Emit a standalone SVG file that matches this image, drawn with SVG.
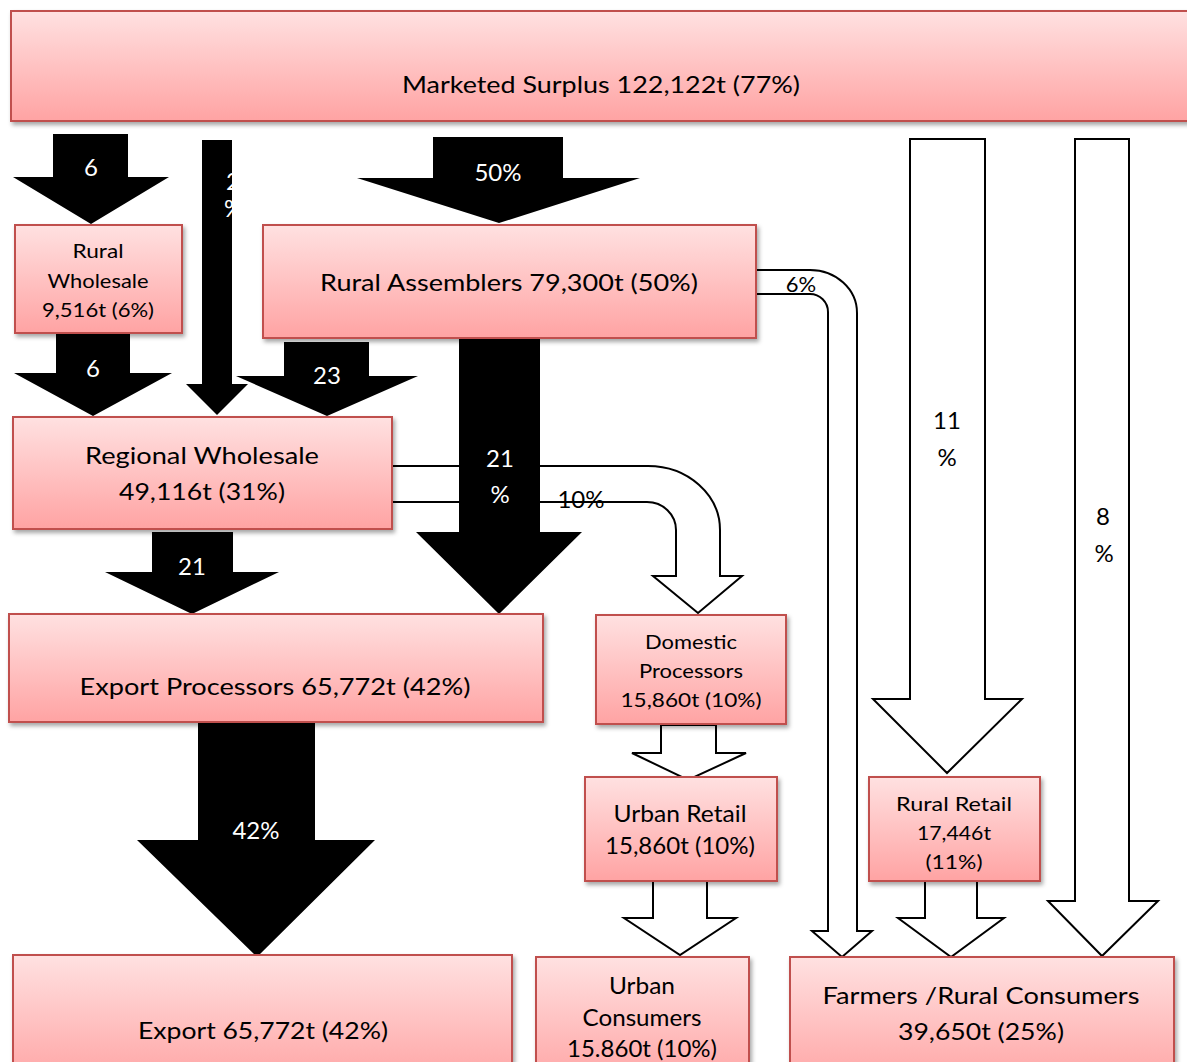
<svg xmlns="http://www.w3.org/2000/svg" width="1187" height="1062" viewBox="0 0 1187 1062">
<style>
.box{fill:url(#g);stroke:#c0504d;stroke-width:2;filter:url(#sh)}
.t{font-family:Lato,"Open Sans","Liberation Sans",sans-serif;font-size:24px;fill:#000;text-anchor:middle}
.s{font-size:19px}
.w{fill:#fff}
.blk{fill:#000;stroke:none}
.wht{fill:#fff;stroke:#000;stroke-width:2;stroke-linejoin:miter}
</style>
<defs>
<linearGradient id="g" x1="0" y1="0" x2="0" y2="1">
<stop offset="0" stop-color="#ffe1e1"/>
<stop offset="1" stop-color="#ffa3a3"/>
</linearGradient>
<filter id="sh" x="-5%" y="-5%" width="110%" height="120%">
<feDropShadow dx="2" dy="3" stdDeviation="2" flood-color="#000" flood-opacity="0.35"/>
</filter>
</defs>
<rect width="1187" height="1062" fill="#fff"/>
<g id="connectors">
<!-- white bent arrow Regional Wholesale -> Domestic Processors -->
<path class="wht" d="M392,466 H648 A72,64 0 0 1 720,530 V576 H742 L698,613 L653,576 H676 V530 A29,28 0 0 0 647,502 H392"/>
<!-- top-left 6 -->
<path class="blk" d="M53,134 H128 V177 H169 L91,224 L13,177 H53 Z"/>
<!-- narrow 2% -->
<path class="blk" d="M202,140 H232 V384 H248 L217,415 L186,384 H202 Z"/>
<!-- 50% -->
<path class="blk" d="M433,137 H563 V178 H640 L499,223 L357,178 H433 Z"/>
<!-- 6 Rural Wholesale -> Regional -->
<path class="blk" d="M56,334 H130 V373 H172 L93,416 L14,373 H56 Z"/>
<!-- 23 -->
<path class="blk" d="M284,342 H369 V376 H418 L327,416 L236,376 H284 Z"/>
<!-- 21 % big -->
<path class="blk" d="M459,338 H540 V532 H582 L499,614 L416,532 H459 Z"/>
<!-- 21 Regional -> Export Processors -->
<path class="blk" d="M152,532 H233 V572 H279 L192,614 L105,572 H152 Z"/>
<!-- 42% -->
<path class="blk" d="M198,720 H315 V840 H375 L257,957 L137,840 H198 Z"/>
<!-- 6% bent -->
<path class="wht" d="M756,270 H810 A47,43 0 0 1 857,313 V931 H872 L842,957 L812,931 H828 V312 A18,18 0 0 0 810,294 H756"/>
<!-- 11% -->
<path class="wht" d="M910,139 H985 V699 H1022 L947,773 L873,699 H910 Z"/>
<!-- 8% -->
<path class="wht" d="M1075,139 H1129 V901 H1158 L1102,956 L1048,901 H1075 Z"/>
<!-- Rural Retail -> Farmers -->
<path class="wht" d="M925,881 H977 V918 H1004 L951,957 L898,918 H925 Z"/>
<!-- Domestic -> Urban Retail -->
<path class="wht" d="M661,725 H716 V753 H746 L688,780 L632,753 H661 Z"/>
<!-- Urban Retail -> Urban Consumers -->
<path class="wht" d="M653,881 H707 V918 H736 L680,955 L624,918 H653 Z"/>
<!-- labels -->
<text class="t w" x="91" y="176">6</text>
<text class="t w" x="226" y="190" style="text-anchor:start">2</text>
<text class="t w" x="224" y="217" style="text-anchor:start">%</text>
<text class="t w" x="498" y="181">50%</text>
<text class="t w" x="93" y="377">6</text>
<text class="t w" x="327" y="384">23</text>
<text class="t w" x="500" y="467">21</text>
<text class="t w" x="500" y="503">%</text>
<text class="t w" x="192" y="575">21</text>
<text class="t w" x="256" y="839">42%</text>
<text class="t" x="801" y="292" style="font-size:22px">6%</text>
<text class="t" x="581" y="508">10%</text>
<text class="t" x="947" y="429">11</text>
<text class="t" x="947" y="466">%</text>
<text class="t" x="1103" y="525">8</text>
<text class="t" x="1104" y="562">%</text>
</g>
<g id="marketed-surplus">
<rect class="box" x="11" y="11" width="1185" height="110"/>
<text class="t" x="601" y="93" textLength="398" lengthAdjust="spacingAndGlyphs">Marketed Surplus 122,122t (77%)</text>
</g>
<g id="rural-wholesale">
<rect class="box" x="15" y="225" width="167" height="108"/>
<text class="t s" x="98" y="258" textLength="51" lengthAdjust="spacingAndGlyphs">Rural</text>
<text class="t s" x="98" y="288" textLength="101" lengthAdjust="spacingAndGlyphs">Wholesale</text>
<text class="t s" x="98" y="317" textLength="112" lengthAdjust="spacingAndGlyphs">9,516t (6%)</text>
</g>
<g id="rural-assemblers">
<rect class="box" x="263" y="225" width="493" height="113"/>
<text class="t" x="509" y="291" textLength="378" lengthAdjust="spacingAndGlyphs">Rural Assemblers 79,300t (50%)</text>
</g>
<g id="regional-wholesale">
<rect class="box" x="13" y="417" width="379" height="112"/>
<text class="t" x="202" y="464" textLength="234" lengthAdjust="spacingAndGlyphs">Regional Wholesale</text>
<text class="t" x="202" y="500" textLength="166" lengthAdjust="spacingAndGlyphs">49,116t (31%)</text>
</g>
<g id="export-processors">
<rect class="box" x="9" y="614" width="534" height="108"/>
<text class="t" x="275" y="695" textLength="391" lengthAdjust="spacingAndGlyphs">Export Processors  65,772t (42%)</text>
</g>
<g id="domestic-processors">
<rect class="box" x="596" y="615" width="190" height="109"/>
<text class="t s" x="691" y="649" textLength="92" lengthAdjust="spacingAndGlyphs">Domestic</text>
<text class="t s" x="691" y="678" textLength="104" lengthAdjust="spacingAndGlyphs">Processors</text>
<text class="t s" x="691" y="707" textLength="141" lengthAdjust="spacingAndGlyphs">15,860t  (10%)</text>
</g>
<g id="urban-retail">
<rect class="box" x="585" y="777" width="192" height="104"/>
<text class="t" x="680" y="822" textLength="133" lengthAdjust="spacingAndGlyphs">Urban Retail</text>
<text class="t" x="680" y="854" textLength="150" lengthAdjust="spacingAndGlyphs">15,860t (10%)</text>
</g>
<g id="rural-retail">
<rect class="box" x="869" y="777" width="171" height="104"/>
<text class="t s" x="954" y="811" textLength="116" lengthAdjust="spacingAndGlyphs">Rural  Retail</text>
<text class="t s" x="954" y="840" textLength="74" lengthAdjust="spacingAndGlyphs">17,446t</text>
<text class="t s" x="954" y="869" textLength="57" lengthAdjust="spacingAndGlyphs">(11%)</text>
</g>
<g id="export">
<rect class="box" x="13" y="955" width="499" height="130"/>
<text class="t" x="263" y="1039" textLength="250" lengthAdjust="spacingAndGlyphs">Export 65,772t (42%)</text>
</g>
<g id="urban-consumers">
<rect class="box" x="536" y="957" width="213" height="130"/>
<text class="t" x="642" y="994" textLength="66" lengthAdjust="spacingAndGlyphs">Urban</text>
<text class="t" x="642" y="1026" textLength="119" lengthAdjust="spacingAndGlyphs">Consumers</text>
<text class="t" x="642" y="1057" textLength="150" lengthAdjust="spacingAndGlyphs">15.860t (10%)</text>
</g>
<g id="farmers-rural-consumers">
<rect class="box" x="790" y="957" width="384" height="130"/>
<text class="t" x="981" y="1004" textLength="317" lengthAdjust="spacingAndGlyphs">Farmers /Rural Consumers</text>
<text class="t" x="981" y="1040" textLength="166" lengthAdjust="spacingAndGlyphs">39,650t (25%)</text>
</g>
</svg>
